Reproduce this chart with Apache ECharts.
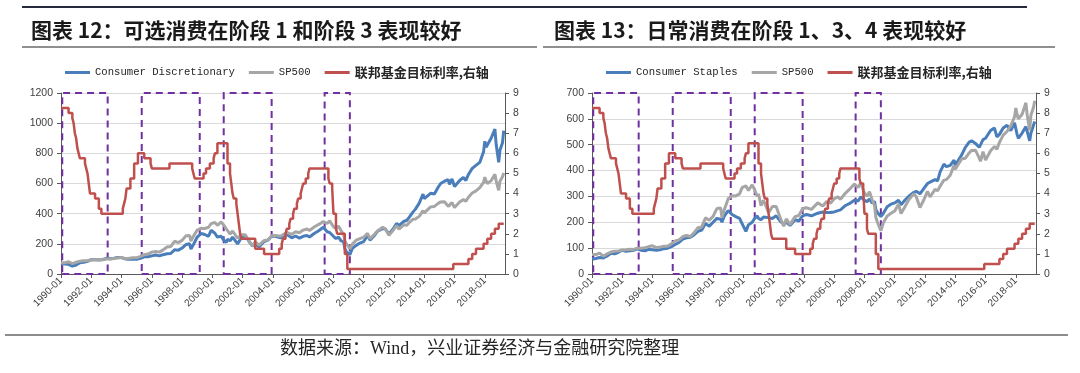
<!DOCTYPE html>
<html><head><meta charset="utf-8">
<script src="https://cdn.jsdelivr.net/npm/echarts@6/dist/echarts.min.js"></script>
<style>html,body{margin:0;padding:0;background:#fff}#c{width:1080px;height:373px}</style>
</head><body><div id="c"></div>
<script>
const xTickLabels = ['1990-01','1992-01','1994-01','1996-01','1998-01','2000-01','2002-01','2004-01','2006-01','2008-01','2010-01','2012-01','2014-01','2016-01','2018-01'];
const xAxisStart = '1990-01';
const xAxisEnd = '2019-05';

const sampleDates = [
 '1990-01','1990-04','1990-07','1990-10',
 '1991-01','1991-04','1991-07','1991-10',
 '1992-01','1992-04','1992-07','1992-10',
 '1993-01','1993-04','1993-07','1993-10',
 '1994-01','1994-04','1994-07','1994-10',
 '1995-01','1995-04','1995-07','1995-10',
 '1996-01','1996-04','1996-07','1996-10',
 '1997-01','1997-04','1997-07','1997-10',
 '1998-01','1998-04','1998-07','1998-08','1998-10',
 '1999-01','1999-04','1999-07','1999-10','1999-12',
 '2000-03','2000-05','2000-08','2000-10','2000-12',
 '2001-01','2001-03','2001-05','2001-09','2001-12',
 '2002-03','2002-07','2002-09','2002-11',
 '2003-02','2003-06','2003-09','2003-12',
 '2004-03','2004-07','2004-12',
 '2005-04','2005-07','2005-10',
 '2006-01','2006-04','2006-06','2006-10',
 '2007-01','2007-02','2007-05','2007-08','2007-10',
 '2008-01','2008-03','2008-05','2008-07','2008-09','2008-10','2008-11',
 '2009-02','2009-04','2009-07','2009-10',
 '2010-01','2010-04','2010-06','2010-09','2010-12',
 '2011-04','2011-06','2011-09','2011-12',
 '2012-03','2012-05','2012-09','2012-11',
 '2013-01','2013-04','2013-06','2013-09','2013-12',
 '2014-01','2014-06','2014-09','2014-12',
 '2015-02','2015-05','2015-08','2015-09','2015-11',
 '2016-01','2016-02','2016-05','2016-08','2016-10','2016-12',
 '2017-03','2017-06','2017-09','2017-12',
 '2018-01','2018-02','2018-03','2018-06','2018-09','2018-10','2018-12',
 '2019-01','2019-03','2019-04'
];
const sp500Values = [
 75,75,81,69, 78,85,88,89, 93,94,96,95, 100,100,102,106, 109,102,104,107,
 107,117,128,132, 145,149,145,160, 179,182,217,208, 223,253,255,218,250,
 291,303,302,310,334, 341,323,345,325,300, 310,264,285,237,261,
 261,207,185,213, 191,222,226,253, 256,250,275, 263,280,274,
 291,298,289,313, 327,320,348,335,352, 313,301,318,288,265,220,204,
 167,198,224,235, 244,270,234,259,286, 310,300,257,286, 320,298,327,322,
 340,363,365,382,420, 405,445,448,468, 478,479,448,436,473,
 441,439,477,493,483,509, 537,551,573,608, 642,617,600,618,662,616,555,
 615,644,670
];
const discretionaryValues = [
 70,66,64,52, 60,75,78,84, 95,94,92,96, 104,101,104,110, 109,100,98,100,
 98,104,114,114, 120,126,120,128, 134,136,160,158, 172,195,200,165,195,
 245,268,262,250,290, 270,245,250,225,210, 230,220,245,200,240,
 255,205,185,200, 180,215,225,250, 250,240,262, 240,252,238,
 250,255,245,270, 285,290,310,280,275, 250,235,245,220,215,170,150,
 128,170,190,205, 215,255,225,250,285, 300,300,265,295, 335,320,350,355,
 375,410,430,470,530, 500,535,530,575, 600,615,625,595,630,
 580,575,620,640,620,660, 700,720,740,810, 880,840,830,900,960,860,740,
 820,870,950
];
const staplesValues = [
 58,60,64,62, 70,80,78,84, 92,88,90,92, 97,92,90,95, 94,92,94,98,
 100,106,114,122, 135,140,142,152, 165,170,195,185, 200,215,212,200,225,
 245,230,222,215,195, 165,190,200,215,225, 215,210,220,218,215,
 225,200,195,200, 188,210,205,225, 230,225,235, 240,238,238,
 240,245,248,265, 272,268,285,282,298, 285,280,290,275,280,250,240,
 222,235,260,270, 275,285,268,285,300, 315,320,310,330, 350,355,365,360,
 395,425,415,420,440, 420,460,490,510, 515,505,490,495,520,
 525,525,555,565,530,540, 565,575,555,585, 580,540,525,545,570,565,515,
 545,575,590
];
const fedDates = [
 '1990-01','1990-07','1990-10','1990-11','1990-12','1991-01','1991-02','1991-03','1991-04','1991-08',
 '1991-09','1991-10','1991-11','1991-12','1992-04','1992-07','1992-09','1994-02','1994-03','1994-04',
 '1994-05','1994-08','1994-11','1995-02','1995-07','1995-12','1996-01','1997-03','1998-09','1998-10',
 '1998-11','1999-06','1999-08','1999-11','2000-02','2000-03','2000-05','2001-01','2001-03','2001-04',
 '2001-05','2001-06','2001-08','2001-09','2001-10','2001-11','2001-12','2002-11','2003-06','2004-06',
 '2004-08','2004-09','2004-11','2004-12','2005-02','2005-03','2005-05','2005-06','2005-08','2005-09',
 '2005-11','2005-12','2006-01','2006-03','2006-05','2006-06','2007-09','2007-10','2007-12','2008-01',
 '2008-03','2008-04','2008-10','2008-12','2015-12','2016-12','2017-03','2017-06','2017-12','2018-03',
 '2018-06','2018-09','2018-12','2019-04'
];
const fedValues = [
 8.25,8.0,7.75,7.5,7.0,6.75,6.25,6.0,5.75,5.5,
 5.25,5.0,4.5,4.0,3.75,3.25,3.0,3.25,3.5,3.75,
 4.25,4.75,5.5,6.0,5.75,5.5,5.25,5.5,5.25,5.0,
 4.75,5.0,5.25,5.5,5.75,6.0,6.5,5.5,5.0,4.5,
 4.0,3.75,3.5,3.0,2.5,2.0,1.75,1.25,1.0,1.25,
 1.5,1.75,2.0,2.25,2.5,2.75,3.0,3.25,3.5,3.75,
 4.0,4.25,4.5,4.75,5.0,5.25,4.75,4.5,4.25,3.0,
 2.25,2.0,1.0,0.25,0.5,0.75,1.0,1.25,1.5,1.75,
 2.0,2.25,2.5,2.5
];
const stageStarts = ['1990-02','1995-05','2000-10','2007-06'];
const stageEnds   = ['1993-02','1999-03','2003-12','2009-02'];

const seriesNames = ['Consumer Discretionary','Consumer Staples','SP500','联邦基金目标利率,右轴'];
const titles = ['图表 12：可选消费在阶段 1 和阶段 3 表现较好','图表 13：日常消费在阶段 1、3、4 表现较好'];
const sourceText = '数据来源：Wind，兴业证券经济与金融研究院整理';

function toYear(s){ return parseInt(s.slice(0,4),10) + (parseInt(s.slice(5,7),10)-1)/12; }
function pairs(dates, vals){ return dates.map((d,i)=>[toYear(d), vals[i]]); }
const xTickValues = xTickLabels.map(toYear);

const BLUE='#4A7EBB', GREY='#A6A6A6', RED='#C0504D', PURPLE='#7030A0';
const AX='#595959', LBL='#404040';

function xAxisCfg(gi){
  return {
    type:'value', gridIndex:gi, min:toYear(xAxisStart), max:toYear(xAxisEnd), interval:2,
    axisLine:{show:true, lineStyle:{color:AX, width:1}},
    axisTick:{show:true, length:4, customValues:xTickValues, lineStyle:{color:AX}},
    axisLabel:{customValues:xTickValues, rotate:45, margin:5, fontSize:10, color:LBL,
      fontFamily:'Liberation Sans',
      formatter:v=>{const i=xTickValues.findIndex(t=>Math.abs(t-v)<1e-6); return i>=0?xTickLabels[i]:'';}},
    splitLine:{show:false}
  };
}
function yLeft(gi, max, interval){
  return {type:'value', gridIndex:gi, min:0, max:max, interval:interval, position:'left',
    axisLine:{show:true, lineStyle:{color:AX}}, axisTick:{show:true, length:4, lineStyle:{color:AX}},
    axisLabel:{fontSize:10.5, color:LBL, margin:8, fontFamily:'Liberation Sans', formatter:v=>String(v)},
    splitLine:{show:true, lineStyle:{color:'#D9D9D9', width:1}}};
}
function yRight(gi){
  return {type:'value', gridIndex:gi, min:0, max:9, interval:1, position:'right',
    axisLine:{show:true, lineStyle:{color:AX}}, axisTick:{show:true, length:4, lineStyle:{color:AX}},
    axisLabel:{fontSize:10.5, color:LBL, margin:8, fontFamily:'Liberation Sans', formatter:v=>String(v)},
    splitLine:{show:false}};
}
function boxes(gi, ymax){
  return {type:'line', xAxisIndex:gi, yAxisIndex:gi*2, data:[], silent:true, z:6,
    markArea:{silent:true, itemStyle:{color:'rgba(0,0,0,0)', borderColor:PURPLE, borderWidth:2, borderType:[7,5]},
      data: stageStarts.map((s,i)=>[{coord:[toYear(s),0]},{coord:[toYear(stageEnds[i]),ymax]}])}};
}
function lineSeries(name, gi, yi, data, color, w, z){
  return {name:name, type:'line', xAxisIndex:gi, yAxisIndex:yi, data:data, showSymbol:false, symbol:'none',
    lineStyle:{color:color, width:w}, itemStyle:{color:color}, z:z};
}
function legendCfg(left, names){
  return {data:names, left:left, top:61, icon:'rect', itemWidth:25, itemHeight:3, itemGap:14,
    formatter:n=>/[\u4e00-\u9fa5]/.test(n)?'{c|'+n+'}':'{m|'+n+'}',
    textStyle:{rich:{
      m:{fontFamily:'Liberation Mono', fontSize:10.6, color:'#262626'},
      c:{fontFamily:'Noto Sans CJK SC', fontSize:13, fontWeight:'bold', color:'#262626'}}}};
}

const chart = echarts.init(document.getElementById('c'), null, {renderer:'canvas'});
const fedData = pairs(fedDates, fedValues);
chart.setOption({
  animation:false,
  backgroundColor:'#fff',
  grid:[{left:61, top:93, width:444, height:181},{left:592, top:93, width:444, height:181}],
  xAxis:[xAxisCfg(0), xAxisCfg(1)],
  yAxis:[yLeft(0,1200,200), yRight(0), yLeft(1,700,100), yRight(1)],
  legend:[legendCfg(60,[seriesNames[0],seriesNames[2],seriesNames[3]]), legendCfg(601,[seriesNames[1],seriesNames[2],seriesNames[3]])],
  series:[
    lineSeries(seriesNames[0],0,0,pairs(sampleDates,discretionaryValues),BLUE,3,2),
    lineSeries(seriesNames[2],0,0,pairs(sampleDates,sp500Values),GREY,3,3),
    Object.assign(lineSeries(seriesNames[3],0,1,fedData,RED,2.5,4),{step:'end'}),
    boxes(0,1200),
    lineSeries(seriesNames[1],1,2,pairs(sampleDates,staplesValues),BLUE,3,2),
    lineSeries(seriesNames[2],1,2,pairs(sampleDates,sp500Values),GREY,3,3),
    Object.assign(lineSeries(seriesNames[3],1,3,fedData,RED,2.5,4),{step:'end'}),
    boxes(1,700)
  ],
  graphic:[
    {type:'line', shape:{x1:22,y1:7,x2:1027,y2:7}, style:{stroke:'#262a3a', lineWidth:2}},
    {type:'line', shape:{x1:22,y1:47,x2:537,y2:47}, style:{stroke:'#6b6b6b', lineWidth:1.5}},
    {type:'line', shape:{x1:543,y1:47,x2:1055,y2:47}, style:{stroke:'#6b6b6b', lineWidth:1.5}},
    {type:'line', shape:{x1:5,y1:335,x2:1068,y2:335}, style:{stroke:'#8c8c8c', lineWidth:2}},
    {type:'text', x:31, y:30, style:{text:titles[0], fontSize:21, fontWeight:'bold', fontFamily:'Noto Sans CJK SC', fill:'#1a1a1a', verticalAlign:'middle'}},
    {type:'text', x:554, y:30, style:{text:titles[1], fontSize:21, fontWeight:'bold', fontFamily:'Noto Sans CJK SC', fill:'#1a1a1a', verticalAlign:'middle'}},
    {type:'text', x:280, y:349, style:{text:sourceText, fontSize:18, fontFamily:"'Liberation Serif','Noto Sans CJK SC'", fill:'#262626', verticalAlign:'middle'}}
  ]
});
</script></body></html>
